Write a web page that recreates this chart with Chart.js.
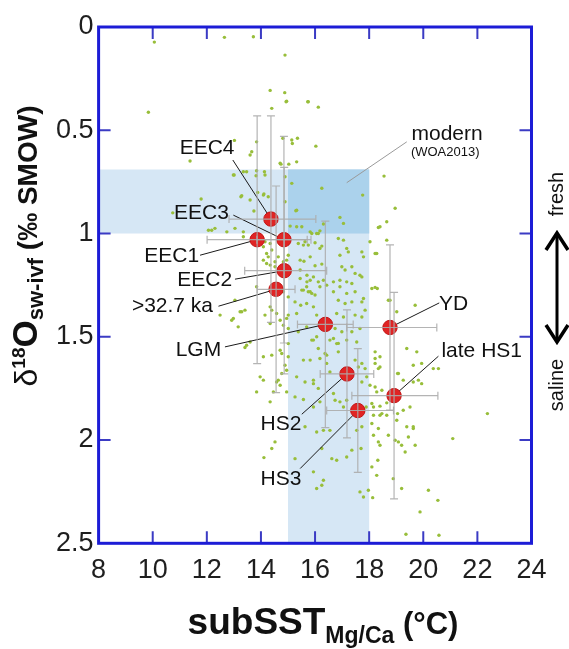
<!DOCTYPE html>
<html>
<head>
<meta charset="utf-8">
<script src="https://cdn.jsdelivr.net/npm/chart.js@4.4.0/dist/chart.umd.min.js"></script>
<style>
  html, body { margin: 0; padding: 0; background: #fff; }
  #wrap { width: 569px; height: 649px; }
</style>
</head>
<body>
<div id="wrap"><canvas id="c" width="569" height="649"></canvas></div>
<script>
// Modern sub-surface observations (subSST in °C, δ18Osw in ‰ SMOW)
const obsSST = [
  10.06,12.65,13.72,14.89,14.34,14.88,14.95,14.40,9.84,14.81,13.84,13.02,13.66,11.38,14.74,15.03,13.01,13.35,13.82,14.13,
  14.89,13.29,13.88,14.11,11.79,10.74,13.74,14.89,15.73,16.12,15.16,15.35,16.03,15.32,18.55,15.14,16.25,17.76,15.29,16.92,
  18.96,17.05,16.31,18.65,18.34,15.08,15.51,15.88,16.18,15.63,15.75,16.00,16.25,17.17,17.23,16.86,17.05,18.03,18.65,16.92,
  17.73,18.28,15.59,15.82,16.00,16.25,16.99,17.11,17.36,17.48,17.73,15.45,15.70,15.94,16.92,17.17,17.36,16.31,18.22,18.30,
  15.51,15.82,16.18,16.68,17.17,17.48,15.26,15.47,15.69,15.94,16.86,17.11,17.36,17.79,17.85,18.77,19.70,15.01,15.32,16.06,
  16.80,17.05,17.48,17.73,15.01,15.38,15.69,16.74,16.99,17.36,17.66,15.88,16.06,16.55,16.86,17.17,17.54,19.39,19.76,18.22,
  18.40,15.01,15.57,16.18,16.43,17.48,17.73,18.22,18.40,19.08,19.94,20.37,20.56,15.32,15.63,15.94,17.73,18.03,14.71,18.28,
  18.47,19.63,19.94,12.06,12.30,13.04,13.35,14.15,14.21,14.40,14.09,14.34,14.52,13.84,13.04,12.49,12.98,13.29,13.41,14.34,
  14.40,14.58,14.15,14.34,14.71,14.83,14.95,13.47,13.60,14.09,14.77,14.89,14.77,13.97,14.09,14.58,13.84,14.46,14.95,12.92,
  13.23,13.16,13.41,14.34,14.64,14.40,14.71,15.01,14.95,14.52,14.40,14.11,15.26,15.57,16.06,16.31,16.55,15.26,15.94,16.25,
  16.62,16.31,16.25,16.06,16.74,17.05,17.36,17.70,17.66,17.79,17.97,18.13,17.89,18.10,18.40,18.65,18.16,18.40,18.65,19.02,
  19.26,18.34,18.71,18.96,19.39,19.63,19.45,19.70,18.16,18.34,18.40,19.08,19.20,19.33,18.32,18.10,18.28,18.89,19.20,20.19,
  20.54,19.88,19.36,20.58,21.09,22.37,17.54,17.73,16.80,17.17,15.57,16.12,15.45,15.70,15.82,15.57,15.75,16.00,16.68,16.92,
  17.66,17.79,17.73,16.68,16.80,16.86,15.94,16.12,15.82,16.37,16.43,16.55,15.94,16.12,16.68,16.92,17.17,17.60,17.85,17.91,
  18.22,18.34,18.22,18.16,18.47,18.10,19.05,19.26,19.63,19.82,19.05,19.51,19.63,16.18,15.94,15.63,18.10,18.71,19.02,18.40,
  18.22,14.93,15.75,13.60,15.14,14.71,12.98,13.47,13.84,14.15,13.26,13.60,14.09,14.27,15.32,12.18,12.74,13.35,14.09,14.34,
  15.32,15.82,16.06,15.38,16.18,14.27,14.64,14.95,15.01,15.45,14.21,14.52,14.83,15.69,16.12,16.43,14.83,15.01,15.88
];
const obsD18O = [
  0.073,0.050,0.047,0.136,0.307,0.318,0.359,0.394,0.413,0.539,0.556,0.549,0.604,0.649,0.664,0.664,0.717,0.701,0.720,0.701,
  0.725,0.817,0.801,0.809,0.833,0.900,0.891,0.846,0.362,0.388,0.564,0.539,0.577,0.653,0.722,0.757,0.781,0.814,0.890,0.922,
  0.878,0.951,0.954,0.943,0.971,0.964,0.967,1.000,0.987,1.040,1.056,1.045,1.061,1.072,1.089,1.024,1.032,1.040,1.032,1.105,
  1.089,1.097,1.134,1.113,1.156,1.148,1.161,1.177,1.161,1.193,1.210,1.218,1.234,1.210,1.226,1.234,1.242,1.226,1.261,1.266,
  1.274,1.282,1.258,1.282,1.290,1.282,1.331,1.347,1.339,1.355,1.323,1.339,1.331,1.315,1.371,1.323,1.347,1.395,1.387,1.395,
  1.387,1.404,1.395,1.404,1.460,1.476,1.452,1.460,1.476,1.476,1.460,1.516,1.500,1.516,1.532,1.516,1.525,1.557,1.573,1.573,
  1.597,1.597,1.613,1.605,1.589,1.613,1.629,1.629,1.646,1.678,1.629,1.654,1.654,1.694,1.719,1.710,1.719,1.735,1.735,1.767,
  1.759,1.719,1.727,0.984,0.975,0.975,0.992,1.040,1.097,1.080,1.129,1.153,1.137,1.258,1.323,1.395,1.411,1.379,1.371,1.355,
  1.371,1.387,1.395,1.436,1.420,1.444,1.411,1.541,1.525,1.597,1.581,1.638,1.678,1.694,1.710,1.719,1.767,1.767,1.767,1.420,
  1.379,1.452,1.552,1.815,1.710,1.589,1.565,1.533,1.662,2.009,2.041,2.085,1.791,1.804,1.961,1.953,1.953,2.090,2.154,2.041,
  2.090,2.195,2.219,2.235,1.807,1.840,2.049,2.041,2.251,2.276,2.243,2.279,1.840,1.823,1.836,1.820,1.880,1.880,1.880,1.904,
  1.856,1.944,1.977,2.001,1.936,1.944,1.985,2.025,1.977,2.009,2.025,2.009,2.025,2.058,2.098,2.130,2.171,2.187,2.235,2.243,
  2.292,2.348,2.456,2.461,1.993,1.872,1.953,1.936,2.098,2.082,1.056,1.000,1.177,1.202,1.226,1.274,1.282,1.298,1.234,1.258,
  1.202,1.113,1.331,1.508,1.533,1.573,1.516,1.557,1.613,1.581,1.629,1.670,1.727,1.750,1.775,1.815,1.807,1.646,1.654,1.694,
  1.605,1.654,1.743,1.840,1.872,1.920,1.678,1.710,1.638,1.710,1.872,1.840,1.936,1.815,1.840,1.936,1.266,1.323,1.379,0.967,
  1.097,0.362,0.362,0.620,0.547,0.660,0.717,0.701,0.696,0.717,0.822,0.838,0.814,0.822,0.887,0.984,0.992,1.016,1.064,1.048,
  0.967,0.992,1.000,1.048,1.072,1.113,1.113,1.129,1.105,1.129,1.145,1.161,1.137,1.258,1.234,1.250,1.282,1.307,1.290
];

// Core intervals: mean values and their error ranges
const intervalNames = ['EEC4', 'EEC3', 'EEC1', 'EEC2', '>32.7 ka', 'LGM', 'YD', 'late HS1', 'HS2', 'HS3'];
const meanSST   = [14.37, 14.85, 13.86, 14.86, 14.56, 16.38, 18.77, 18.92, 17.18, 17.58];
const meanD18O  = [0.93, 1.03, 1.03, 1.18, 1.27, 1.44, 1.455, 1.785, 1.68, 1.857];
const sstErrLow  = [1.55, 1.00, 1.85, 1.46, 0.70, 1.03, 1.60, 1.56, 0.99, 1.15];
const sstErrHigh = [1.66, 1.00, 1.85, 1.57, 0.70, 1.03, 1.73, 1.62, 0.99, 1.32];
const d18oErr    = [0.50, 0.50, 0.60, 0.50, 0.50, 0.50, 0.40, 0.50, 0.31, 0.30];

// Modern (WOA2013) ranges
const modernSST  = [15, 18];
const modernD18O = [0.69, 1.0];

// Axis ranges and tick labels
const xRange = [8, 24];
const yRange = [0, 2.5];
const xTickValues = [8, 10, 12, 14, 16, 18, 20, 22, 24];
const xTickLabels = ['8', '10', '12', '14', '16', '18', '20', '22', '24'];
const yTickValues = [0, 0.5, 1, 1.5, 2, 2.5];
const yTickLabels = ['0', '0.5', '1', '1.5', '2', '2.5'];

// Where each interval label sits (text centre, leader start), in axis units
const labelSpots = [
  { tx: 12.01, ty: 0.589, lx: 12.96, ly: 0.644 },
  { tx: 11.80, ty: 0.903, lx: 12.98, ly: 0.911 },
  { tx: 10.70, ty: 1.112, lx: 11.75, ly: 1.105 },
  { tx: 11.92, ty: 1.226, lx: 13.04, ly: 1.221 },
  { tx: 10.73, ty: 1.354, lx: 12.43, ly: 1.352 },
  { tx: 11.69, ty: 1.565, lx: 12.67, ly: 1.549 },
  { tx: 21.12, ty: 1.340, lx: 20.59, ly: 1.336 },
  { tx: 22.16, ty: 1.570, lx: 20.56, ly: 1.594 },
  { tx: 14.74, ty: 1.921, lx: 15.51, ly: 1.875 },
  { tx: 14.74, ty: 2.188, lx: 15.45, ly: 2.138 }
];
const modernNote = { tx: 20.88, ty: 0.521, sx: 20.81, sy: 0.608, lx: 19.39, ly: 0.556, ex: 17.17, ey: 0.754 };

const FONT = '"Liberation Sans", Arial, Helvetica, sans-serif';
const AXIS_BLUE = '#1c1cd6';

function labelFor(values, labels, v) {
  let best = 0;
  values.forEach((tv, i) => { if (Math.abs(tv - v) < Math.abs(values[best] - v)) best = i; });
  return labels[best];
}

function drawRich(ctx, parts, x, y, align) {
  // parts: [text, font, dy]
  let total = 0;
  parts.forEach(p => { ctx.font = p[1]; total += ctx.measureText(p[0]).width; });
  let cx = align === 'center' ? x - total / 2 : x;
  ctx.textAlign = 'left';
  ctx.textBaseline = 'alphabetic';
  parts.forEach(p => {
    ctx.font = p[1];
    ctx.fillText(p[0], cx, y + p[2]);
    cx += ctx.measureText(p[0]).width;
  });
}

const decor = {
  id: 'decor',
  beforeDatasetsDraw(chart) {
    const { ctx, scales: { x, y } } = chart;
    const rect = (x0, x1, y0, y1, col) => {
      const a = x.getPixelForValue(x0), b = x.getPixelForValue(x1);
      const c = y.getPixelForValue(y0), d = y.getPixelForValue(y1);
      ctx.fillStyle = col;
      ctx.fillRect(Math.min(a, b), Math.min(c, d), Math.abs(b - a), Math.abs(d - c));
    };
    ctx.save();
    rect(xRange[0], modernSST[1], modernD18O[0], modernD18O[1], '#d6e7f5');
    rect(modernSST[0], modernSST[1], modernD18O[0], yRange[1], '#d6e7f5');
    rect(modernSST[0], modernSST[1], modernD18O[0], modernD18O[1], '#abd2ec');
    ctx.restore();
  },
  afterDatasetDraw(chart, args) {
    if (args.index !== 0) return;
    const { ctx, scales: { x, y } } = chart;
    ctx.save();
    ctx.strokeStyle = '#1a1a1a';
    ctx.lineWidth = 1;
    labelSpots.forEach((s, i) => {
      ctx.beginPath();
      ctx.moveTo(x.getPixelForValue(s.lx), y.getPixelForValue(s.ly));
      ctx.lineTo(x.getPixelForValue(meanSST[i]), y.getPixelForValue(meanD18O[i]));
      ctx.stroke();
    });
    ctx.strokeStyle = '#9a9a9a';
    ctx.beginPath();
    ctx.moveTo(x.getPixelForValue(modernNote.lx), y.getPixelForValue(modernNote.ly));
    ctx.lineTo(x.getPixelForValue(modernNote.ex), y.getPixelForValue(modernNote.ey));
    ctx.stroke();
    ctx.restore();
  },
  afterDatasetsDraw(chart) {
    const { ctx, scales: { x, y } } = chart;
    const cap = 4;
    ctx.save();
    ctx.strokeStyle = 'rgba(172,172,172,0.9)';
    ctx.lineWidth = 1.2;
    meanSST.forEach((m, i) => {
      const px = x.getPixelForValue(m), py = y.getPixelForValue(meanD18O[i]);
      const xl = x.getPixelForValue(m - sstErrLow[i]), xr = x.getPixelForValue(m + sstErrHigh[i]);
      const yt = y.getPixelForValue(meanD18O[i] - d18oErr[i]), yb = y.getPixelForValue(meanD18O[i] + d18oErr[i]);
      ctx.beginPath();
      ctx.moveTo(xl, py); ctx.lineTo(xr, py);
      ctx.moveTo(xl, py - cap); ctx.lineTo(xl, py + cap);
      ctx.moveTo(xr, py - cap); ctx.lineTo(xr, py + cap);
      ctx.moveTo(px, yt); ctx.lineTo(px, yb);
      ctx.moveTo(px - cap, yt); ctx.lineTo(px + cap, yt);
      ctx.moveTo(px - cap, yb); ctx.lineTo(px + cap, yb);
      ctx.stroke();
    });
    ctx.restore();
  },
  afterDraw(chart) {
    const { ctx, chartArea: a, scales: { x, y } } = chart;
    ctx.save();
    // inner tick marks on all four sides
    ctx.strokeStyle = '#3b3bc4';
    ctx.lineWidth = 2;
    const tl = 12;
    x.ticks.forEach(t => {
      if (t.value <= xRange[0] || t.value >= xRange[1]) return;
      const px = x.getPixelForValue(t.value);
      ctx.beginPath();
      ctx.moveTo(px, a.bottom); ctx.lineTo(px, a.bottom - tl);
      ctx.moveTo(px, a.top); ctx.lineTo(px, a.top + tl);
      ctx.stroke();
    });
    y.ticks.forEach(t => {
      if (t.value <= yRange[0] || t.value >= yRange[1]) return;
      const py = y.getPixelForValue(t.value);
      ctx.beginPath();
      ctx.moveTo(a.left, py); ctx.lineTo(a.left + tl, py);
      ctx.moveTo(a.right, py); ctx.lineTo(a.right - tl, py);
      ctx.stroke();
    });
    // frame
    ctx.strokeStyle = AXIS_BLUE;
    ctx.lineWidth = 3;
    ctx.strokeRect(a.left, a.top, a.right - a.left, a.bottom - a.top);

    // interval labels
    ctx.fillStyle = '#111';
    ctx.font = '21px ' + FONT;
    ctx.textAlign = 'center';
    ctx.textBaseline = 'middle';
    labelSpots.forEach((s, i) => {
      ctx.fillText(intervalNames[i], x.getPixelForValue(s.tx), y.getPixelForValue(s.ty));
    });
    ctx.fillText('modern', x.getPixelForValue(modernNote.tx), y.getPixelForValue(modernNote.ty));
    ctx.font = '13px ' + FONT;
    ctx.fillText('(WOA2013)', x.getPixelForValue(modernNote.sx), y.getPixelForValue(modernNote.sy));

    // x axis title
    ctx.fillStyle = '#111';
    drawRich(ctx, [
      ['subSST', 'bold 37px ' + FONT, 0],
      ['Mg/Ca', 'bold 23px ' + FONT, 9],
      [' (°C)', 'bold 31px ' + FONT, 0]
    ], 323, 634, 'center');

    // y axis title
    ctx.save();
    ctx.translate(37, 246);
    ctx.rotate(-Math.PI / 2);
    drawRich(ctx, [
      ['δ', '32px ' + FONT, 0],
      ['18', 'bold 19px ' + FONT, -12],
      ['O', 'bold 35px ' + FONT, 0],
      ['sw-ivf', 'bold 22px ' + FONT, 6],
      [' (‰ SMOW)', 'bold 28px ' + FONT, 0]
    ], 0, 0, 'center');
    ctx.restore();

    // fresh / saline direction marker
    const ax = 557;
    ctx.font = '20px ' + FONT;
    ctx.textAlign = 'center';
    ctx.textBaseline = 'middle';
    [['fresh', 194], ['saline', 385]].forEach(([t, cy]) => {
      ctx.save();
      ctx.translate(ax, cy);
      ctx.rotate(-Math.PI / 2);
      ctx.fillText(t, 0, 0);
      ctx.restore();
    });
    ctx.strokeStyle = '#000';
    ctx.lineWidth = 3;
    ctx.lineCap = 'butt';
    ctx.beginPath();
    ctx.moveTo(ax, 233); ctx.lineTo(ax, 342);
    ctx.stroke();
    ctx.lineWidth = 3.5;
    ctx.beginPath();
    ctx.moveTo(ax - 11, 250); ctx.lineTo(ax, 233); ctx.lineTo(ax + 11, 250);
    ctx.moveTo(ax - 11, 325); ctx.lineTo(ax, 342); ctx.lineTo(ax + 11, 325);
    ctx.stroke();
    ctx.restore();
  }
};

const PLOT = { left: 98.6, right: 531.5, top: 27, bottom: 543.3 };

new Chart(document.getElementById('c'), {
  type: 'scatter',
  data: {
    datasets: [
      {
        label: 'modern',
        data: obsSST.map((v, i) => ({ x: v, y: obsD18O[i] })),
        pointRadius: 1.7,
        pointBackgroundColor: '#98be3a',
        pointBorderWidth: 0,
        order: 1
      },
      {
        label: 'intervals',
        data: meanSST.map((v, i) => ({ x: v, y: meanD18O[i] })),
        pointRadius: 7.2,
        pointBackgroundColor: '#e02424',
        pointBorderColor: '#c21414',
        pointBorderWidth: 1,
        order: 0
      }
    ]
  },
  options: {
    responsive: false,
    animation: false,
    events: [],
    layout: { padding: { top: PLOT.top, right: 569 - PLOT.right, left: 0, bottom: 0 } },
    plugins: { legend: { display: false }, tooltip: { enabled: false } },
    scales: {
      x: {
        type: 'linear', min: xRange[0], max: xRange[1],
        grid: { display: false, drawTicks: false },
        border: { display: false },
        ticks: {
          stepSize: 2, autoSkip: false, maxRotation: 0, padding: 11, color: '#1e1e1e',
          font: { size: 27, family: FONT },
          callback: v => labelFor(xTickValues, xTickLabels, v)
        },
        afterFit(s) { s.height = 649 - PLOT.bottom; }
      },
      y: {
        type: 'linear', min: yRange[0], max: yRange[1], reverse: true,
        grid: { display: false, drawTicks: false },
        border: { display: false },
        ticks: {
          stepSize: 0.5, autoSkip: false, padding: 5, color: '#1e1e1e',
          font: { size: 27, family: FONT },
          callback: v => labelFor(yTickValues, yTickLabels, v)
        },
        afterFit(s) { s.width = PLOT.left; }
      }
    }
  },
  plugins: [decor]
});
</script>
</body>
</html>
